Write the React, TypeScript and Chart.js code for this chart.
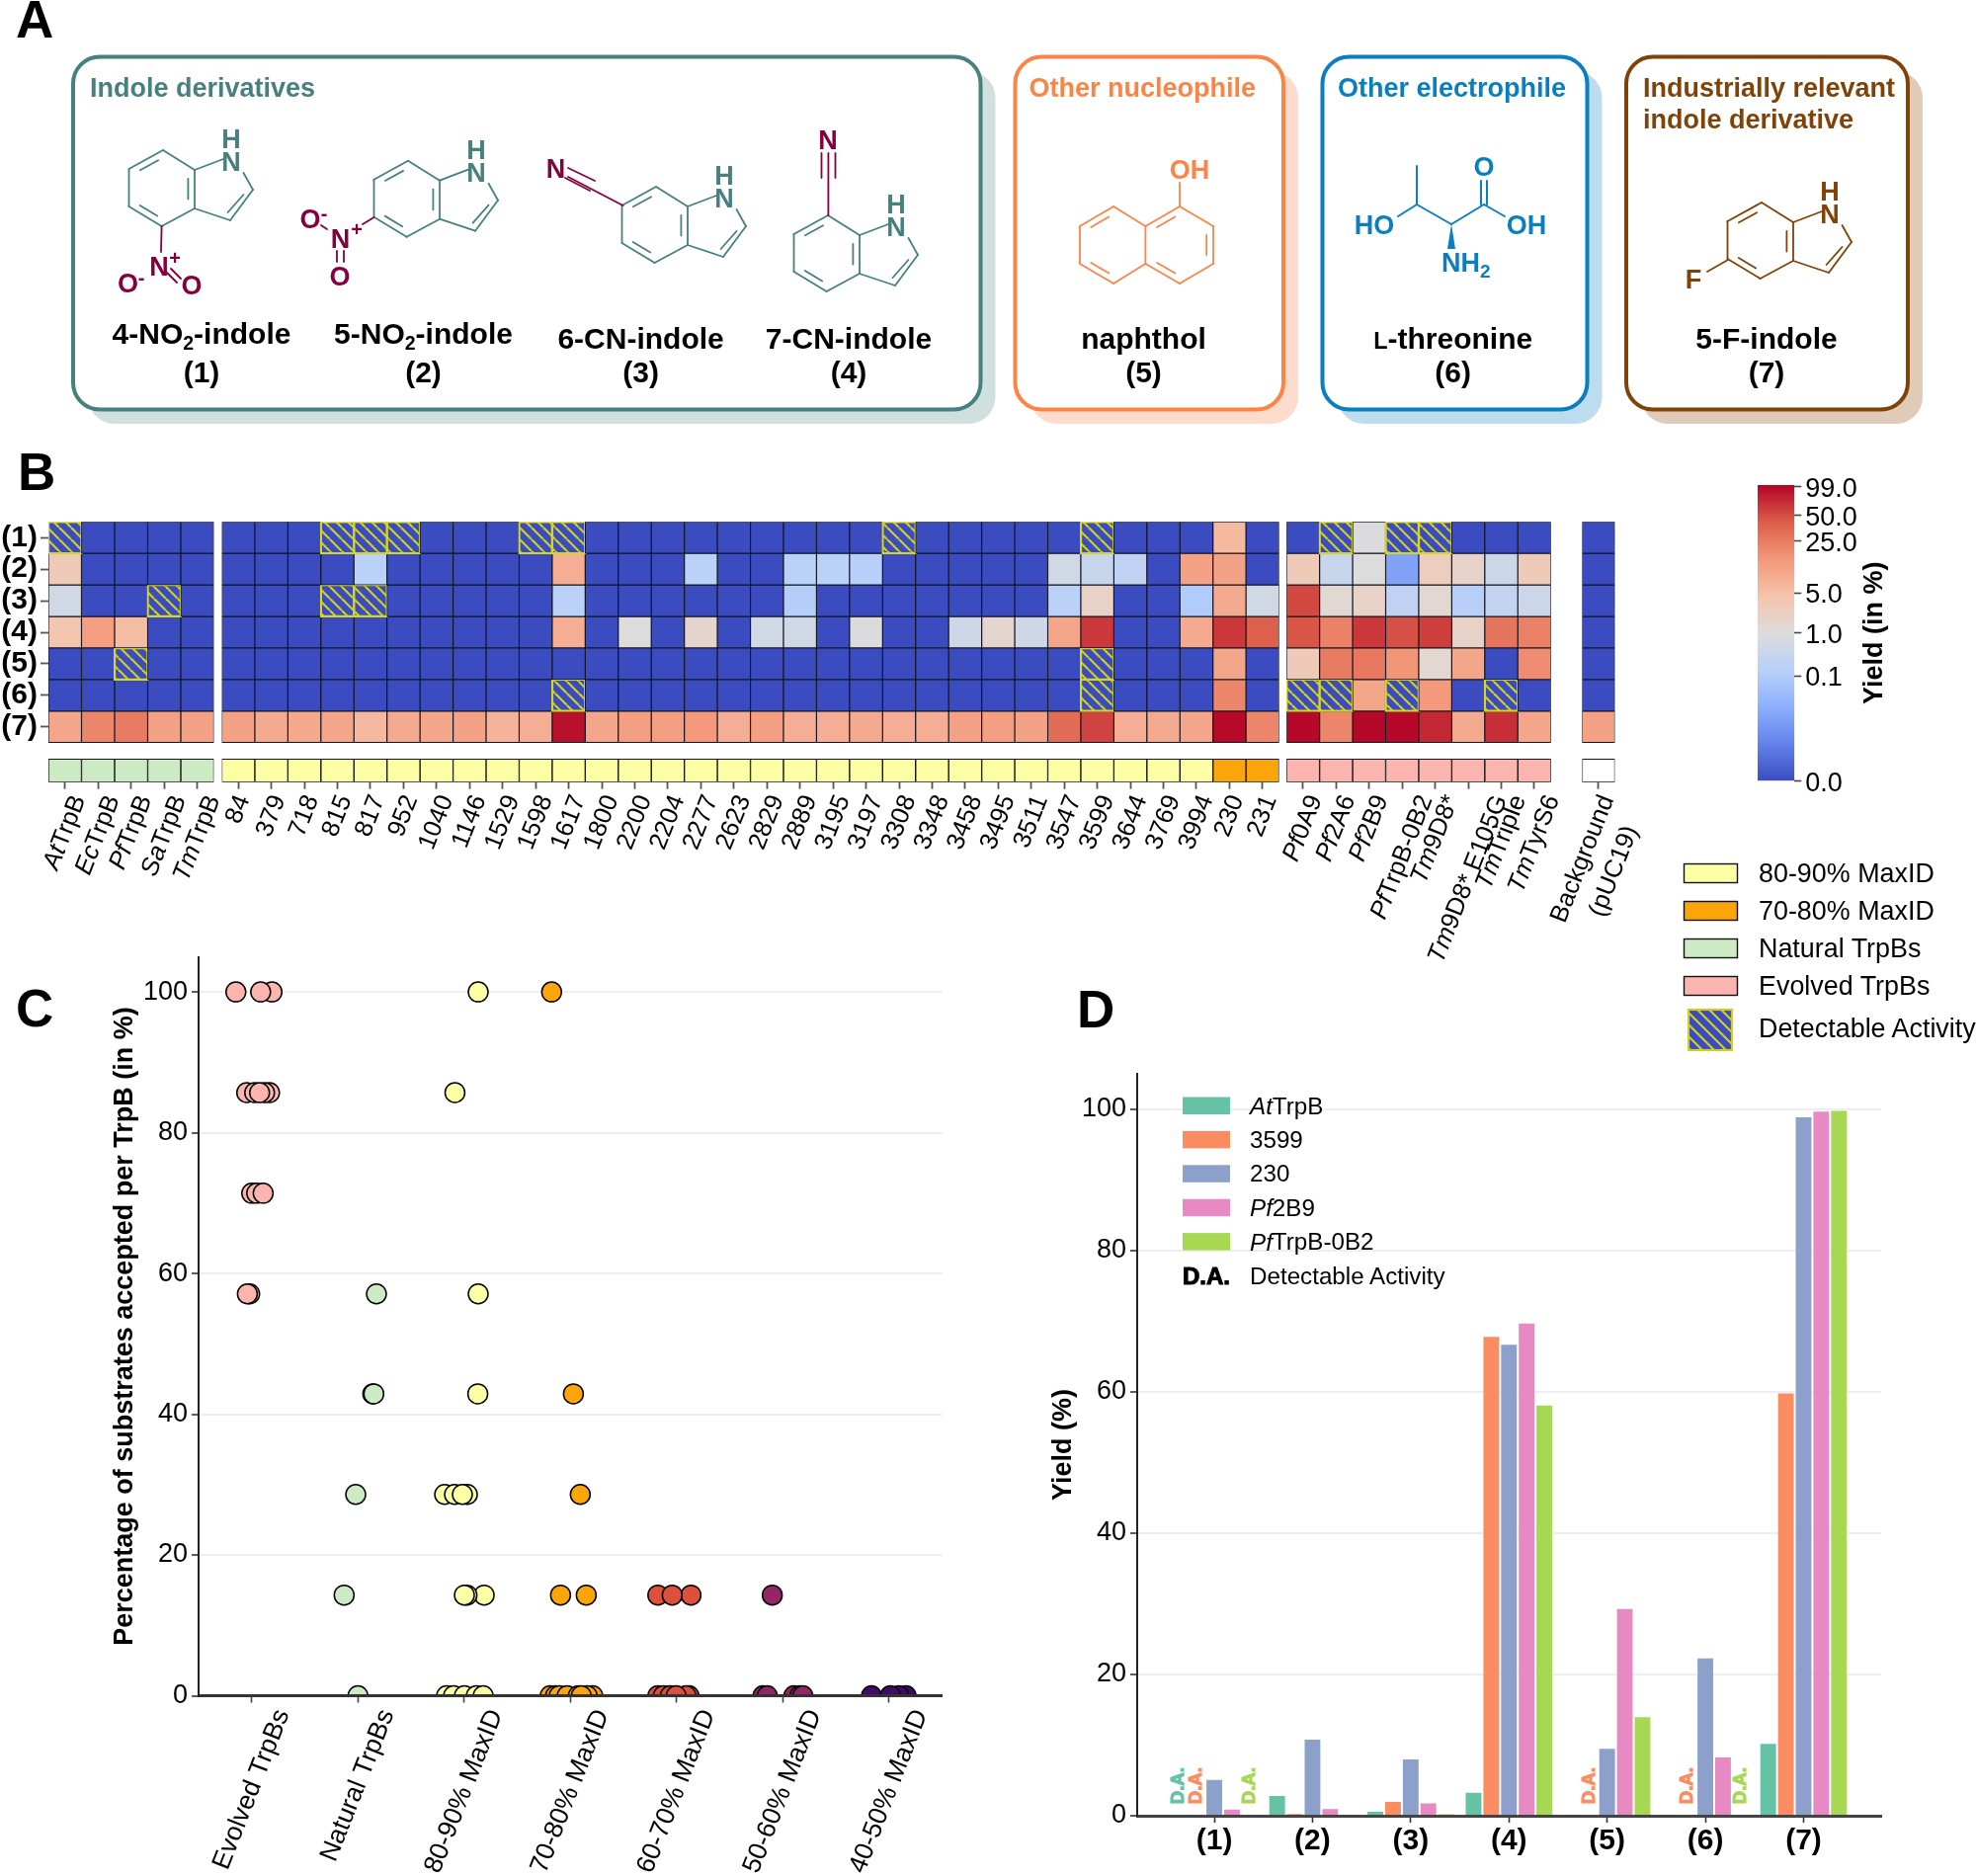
import React, { useEffect, useRef } from "react";
import { Chart, registerables } from "chart.js";

Chart.register(...registerables);

const FONT = '"Liberation Sans", Arial, sans-serif';
Chart.defaults.font.family = FONT;
Chart.defaults.color = "#000";

// ---------- data: panel B ----------
const DA = -1; // detectable activity (hatched cell)
const naturalLabels = ["AtTrpB", "EcTrpB", "PfTrpB", "SaTrpB", "TmTrpB"];
const midLabels = ["84", "379", "718", "815", "817", "952", "1040", "1146", "1529", "1598", "1617", "1800", "2200", "2204", "2277", "2623", "2829", "2889", "3195", "3197", "3308", "3348", "3458", "3495", "3511", "3547", "3599", "3644", "3769", "3994", "230", "231"];
const evolvedLabels = ["Pf0A9", "Pf2A6", "Pf2B9", "PfTrpB-0B2", "Tm9D8*", "Tm9D8* E105G", "TmTriple", "TmTyrS6"];
const backgroundLabels = ["Background|(pUC19)"];
const rowLabels = ["(1)", "(2)", "(3)", "(4)", "(5)", "(6)", "(7)"];

const row1 = [DA, 0, 0, 0, 0, 0, 0, 0, DA, DA, DA, 0, 0, 0, DA, DA, 0, 0, 0, 0, 0, 0, 0, 0, 0, DA, 0, 0, 0, 0, 0, DA, 0, 0, 0, 6, 0, 0, DA, 0.9, DA, DA, 0, 0, 0, 0];
const row2 = [3, 0, 0, 0, 0, 0, 0, 0, 0, 0.15, 0, 0, 0, 0, 0, 8, 0, 0, 0, 0.15, 0, 0, 0.15, 0.15, 0.13, 0, 0, 0, 0, 0, 0.5, 0.3, 0.2, 0, 11, 11, 0, 3, 0.3, 1, 0.06, 2.5, 1.8, 0.4, 3, 0];
const row3 = [0.5, 0, 0, DA, 0, 0, 0, 0, DA, DA, 0, 0, 0, 0, 0, 0.15, 0, 0, 0, 0, 0, 0, 0.12, 0, 0, 0, 0, 0, 0, 0, 0.16, 2, 0, 0, 0.1, 9, 0.5, 52, 1.3, 2, 0.2, 1.4, 0.13, 0.25, 0.4, 0];
const row4 = [4, 12, 5.5, 0, 0, 0, 0, 0, 0, 0, 0, 0, 0, 0, 0, 8, 0, 1, 0, 1.6, 0, 0.5, 0.5, 0, 0.9, 0, 0, 0.45, 1.5, 0.45, 10, 62, 0, 0, 9, 62, 40, 45, 22, 62, 48, 58, 2, 28, 23, 0];
const row5 = [0, 0, DA, 0, 0, 0, 0, 0, 0, 0, 0, 0, 0, 0, 0, 0, 0, 0, 0, 0, 0, 0, 0, 0, 0, 0, 0, 0, 0, 0, 0, DA, 0, 0, 0, 10, 0, 3, 25, 27, 15, 1.4, 10, 0, 18, 0];
const row6 = [0, 0, 0, 0, 0, 0, 0, 0, 0, 0, 0, 0, 0, 0, 0, DA, 0, 0, 0, 0, 0, 0, 0, 0, 0, 0, 0, 0, 0, 0, 0, DA, 0, 0, 0, 20, 0, DA, DA, 10, DA, 14, 0, DA, 0, 0];
const row7 = [10, 20, 25, 11, 11, 11, 9, 9.5, 10, 6, 9, 10, 11, 7, 8, 92, 10, 12, 12, 14, 8, 12, 8, 8, 9, 8, 8, 11, 12, 11, 32, 55, 8, 9, 10, 97, 20, 99, 20, 99, 99, 72, 9, 68, 10, 11];
const heatRows = [row1, row2, row3, row4, row5, row6, row7];

const cbarTicks = [99, 50, 25, 5, 1, 0.1, 0];
const cbarPositions = [0.994, 0.898, 0.81, 0.636, 0.5, 0.356, 0];
const coolwarmStops = ["#3b4cc0", "#6282ea", "#8db0fe", "#b8d0f9", "#dddcdc", "#f5c4ac", "#f4987a", "#dc5d4a", "#b40426"];

const YELLOW = "#fcffa4";
const ORANGE = "#fca50a";
const GREEN = "#ccebc5";
const PINK = "#fbb4ae";
const RED = "#dd513a";
const PURPLE = "#932667";
const VIOLET = "#420a68";

// ---------- data: panel C ----------
const cCategories = ["Evolved TrpBs", "Natural TrpBs", "80-90% MaxID", "70-80% MaxID", "60-70% MaxID", "50-60% MaxID", "40-50% MaxID"];
const cYTicks = [0, 20, 40, 60, 80, 100];
const pct = { a: 100, b: 85.7, c: 71.4, d: 57.1, e: 42.9, f: 28.6, g: 14.3, z: 0 };
const evolvedPts: [number, number][] = [[0.191, pct.a], [-0.149, pct.a], [0.084, pct.a], [-0.047, pct.b], [0.168, pct.b], [0.121, pct.b], [0.028, pct.b], [0.074, pct.b], [0, pct.c], [0.047, pct.c], [0.108, pct.c], [-0.019, pct.d], [-0.041, pct.d]];
const naturalPts: [number, number][] = [[1.174, pct.d], [1.14, pct.e], [1.149, pct.e], [0.979, pct.f], [0.87, pct.g], [1, pct.z]];
const id80Pts: [number, number][] = [[2.132, pct.a], [1.913, pct.b], [2.132, pct.d], [2.128, pct.e], [1.816, pct.f], [2.03, pct.f], [1.909, pct.f], [1.983, pct.f], [2.188, pct.g], [2.026, pct.g], [2.002, pct.g], [1.834, pct.z], [1.9, pct.z], [2.002, pct.z], [2.114, pct.z], [2.179, pct.z]];
const id70Pts: [number, number][] = [[2.823, pct.a], [3.028, pct.e], [3.093, pct.f], [2.907, pct.g], [3.149, pct.g], [2.809, pct.z], [2.86, pct.z], [2.894, pct.z], [2.969, pct.z], [3.21, pct.z], [3.158, pct.z], [3.074, pct.z], [3.102, pct.z]];
const id60Pts: [number, number][] = [[3.823, pct.g], [4.135, pct.g], [3.958, pct.g], [3.823, pct.z], [3.874, pct.z], [3.94, pct.z], [4.116, pct.z], [4.088, pct.z], [3.995, pct.z]];
const id50Pts: [number, number][] = [[4.9, pct.g], [4.813, pct.z], [4.853, pct.z], [5.104, pct.z], [5.16, pct.z], [5.188, pct.z]];
const id40Pts: [number, number][] = [[5.834, pct.z], [6.16, pct.z], [6.09, pct.z], [6.011, pct.z]];

// ---------- data: panel D ----------
const dCategories = ["(1)", "(2)", "(3)", "(4)", "(5)", "(6)", "(7)"];
const dAt = [0, 2.95, 0.7, 3.4, 0, 0, 10.3];
const d3599 = [0, 0.35, 2.1, 67.9, 0, 0, 59.9];
const d230 = [5.2, 10.9, 8.1, 66.8, 9.6, 22.4, 99];
const dPf2B9 = [1, 1.1, 1.9, 69.8, 29.4, 8.4, 99.8];
const dPf0B2 = [0, 0.1, 0.3, 58.2, 14.1, 0, 99.9];
const dAtDA = [1];
const d3599DA = [1, 5, 6];
const dPf0B2DA = [1, 6];
const dColors = ["#66c2a5", "#fc8d62", "#8da0cb", "#e78ac3", "#a6d854"];

// ---------- helpers ----------
type Box = { x: number; y: number; w: number; h: number };
type Plot = { l: number; t: number; r: number; b: number };

function hex(c: string) {
  return [1, 3, 5].map((i) => parseInt(c.slice(i, i + 2), 16));
}
function coolwarm(t: number) {
  const u = Math.max(0, Math.min(1, t)) * (coolwarmStops.length - 1);
  const i = Math.min(Math.floor(u), coolwarmStops.length - 2);
  const a = hex(coolwarmStops[i]);
  const b = hex(coolwarmStops[i + 1]);
  const f = u - i;
  return `rgb(${a.map((v, k) => Math.round(v + (b[k] - v) * f)).join(",")})`;
}
function norm(v: number) {
  if (v <= 0) return 0;
  for (let i = 0; i < cbarTicks.length - 1; i++) {
    const hi = cbarTicks[i];
    const lo = cbarTicks[i + 1];
    if (v >= lo) {
      const f = lo === 0 ? v / hi : Math.log(v / lo) / Math.log(hi / lo);
      return cbarPositions[i + 1] + (cbarPositions[i] - cbarPositions[i + 1]) * f;
    }
  }
  return 1;
}
function fixedAxis(size: number) {
  return (s: any) => {
    if (s.isHorizontal()) s.height = size;
    else s.width = size;
    s.paddingLeft = s.paddingRight = s.paddingTop = s.paddingBottom = 0;
  };
}
function padFor(box: Box, plot: Plot, left = 0, bottom = 0, right = 0) {
  return {
    left: plot.l - box.x - left,
    top: plot.t - box.y,
    right: box.x + box.w - plot.r - right,
    bottom: box.y + box.h - plot.b - bottom,
  };
}
function hatchPattern() {
  const n = 12;
  const c = document.createElement("canvas");
  c.width = c.height = n;
  const g = c.getContext("2d")!;
  g.fillStyle = "#3b4cc0";
  g.fillRect(0, 0, n, n);
  g.strokeStyle = "#cfcf22";
  g.lineWidth = 2.2;
  for (const d of [-n, 0, n]) {
    g.beginPath();
    g.moveTo(d, 0);
    g.lineTo(d + n, n);
    g.stroke();
  }
  return g.createPattern(c, "repeat")!;
}
const ITALIC_PREFIX = /^(At|Ec|Pf|Sa|Tm)/;
function angledLabels(id: string, labels: string[], topPx: number, size: number, angleDeg: number, lh: number) {
  return {
    id,
    afterDraw(chart: any) {
      const { ctx, scales } = chart;
      const th = (angleDeg * Math.PI) / 180;
      const top = topPx - chart.canvas.offsetTop;
      labels.forEach((label, i) => {
        const lines = label.split("|");
        const parts = lines.map((ln) => {
          const m = ln.match(ITALIC_PREFIX);
          return m ? [[m[1], `italic ${size}px ${FONT}`], [ln.slice(m[1].length), `${size}px ${FONT}`]] : [[ln, `${size}px ${FONT}`]];
        });
        const widths = parts.map((runs) =>
          runs.reduce((acc, [t, f]) => {
            ctx.font = f;
            return acc + ctx.measureText(t).width;
          }, 0)
        );
        const w = Math.max(...widths);
        const hgt = lines.length * lh;
        const H = w * Math.sin(th) + hgt * Math.cos(th);
        const px = scales.x.getPixelForValue(i);
        ctx.save();
        ctx.translate(px, top + H / 2);
        ctx.rotate(-th);
        ctx.fillStyle = "#000";
        ctx.textBaseline = "middle";
        ctx.textAlign = "left";
        parts.forEach((runs, j) => {
          let x = -widths[j] / 2;
          const y = (j - (lines.length - 1) / 2) * lh;
          runs.forEach(([t, f]) => {
            ctx.font = f;
            ctx.fillText(t, x, y);
            x += ctx.measureText(t).width;
          });
        });
        ctx.restore();
      });
    },
  };
}

function ChartCanvas({ box, build }: { box: Box; build: () => any }) {
  const ref = useRef<HTMLCanvasElement>(null);
  useEffect(() => {
    const chart = new Chart(ref.current!, build());
    return () => chart.destroy();
  }, []);
  return <canvas ref={ref} width={box.w} height={box.h} style={{ position: "absolute", left: box.x, top: box.y, width: box.w, height: box.h }} />;
}

const baseOptions = {
  responsive: false,
  animation: false as const,
  devicePixelRatio: 1,
  events: [] as string[],
};

// ---------- panel B ----------
const ROW_GAP = 0.52;
const STRIP = 0.733;
function heatConfig(box: Box, plot: Plot, labels: string[], start: number, strip: string | ((i: number) => string), showRows: boolean) {
  const pattern = hatchPattern();
  const cell = (row: number[], i: number) => row[start + i];
  const rowSets = heatRows.map((row, r) => ({
    label: rowLabels[r],
    data: labels.map(() => 1),
    backgroundColor: (c: any) => (cell(row, c.dataIndex) === DA ? pattern : coolwarm(norm(cell(row, c.dataIndex)))),
    borderColor: (c: any) => (cell(row, c.dataIndex) === DA ? "#d6d61c" : "#14141e"),
    borderWidth: (c: any) => (cell(row, c.dataIndex) === DA ? 2.2 : 1),
    inflateAmount: (c: any) => (cell(row, c.dataIndex) === DA ? 1 : 0.4),
  }));
  const gap = { label: "gap", data: labels.map(() => ROW_GAP), backgroundColor: "transparent", borderWidth: 0, inflateAmount: 0 };
  const stripSet = {
    label: "group",
    data: labels.map(() => STRIP),
    backgroundColor: (c: any) => (typeof strip === "string" ? strip : strip(c.dataIndex)),
    borderColor: "#141414",
    borderWidth: 1,
    inflateAmount: 0.3,
  };
  const axisW = showRows ? plot.l - box.x : 0;
  return {
    type: "bar",
    data: { labels, datasets: [...rowSets, gap, stripSet] },
    options: {
      ...baseOptions,
      layout: { padding: padFor(box, plot, axisW) },
      datasets: { bar: { barPercentage: 1, categoryPercentage: 1, borderSkipped: false } },
      plugins: { legend: { display: false }, tooltip: { enabled: false } },
      scales: {
        x: {
          stacked: true,
          ticks: { display: false, autoSkip: false },
          grid: { display: true, offset: false, drawOnChartArea: false, drawTicks: true, tickLength: 7, tickColor: "#555", tickWidth: 1.8 },
          border: { display: false },
          afterFit: fixedAxis(0),
        },
        y: {
          display: showRows,
          stacked: true,
          reverse: true,
          min: 0,
          max: 7 + ROW_GAP + STRIP,
          bounds: "data",
          afterBuildTicks: (s: any) => {
            s.ticks = rowLabels.map((_, i) => ({ value: i + 0.5 }));
          },
          ticks: { autoSkip: false, padding: 3, font: { size: 30, weight: "bold" }, callback: (_: any, i: number) => rowLabels[i] },
          grid: { display: true, drawOnChartArea: false, drawTicks: true, tickLength: 8, tickColor: "#555", tickWidth: 1.8 },
          border: { display: false },
          afterFit: fixedAxis(axisW),
        },
      },
    },
    plugins: [angledLabels("ticks" + start, labels, 800, 25.5, 68.5, 34)],
  };
}

const groups = [
  { box: { x: 0, y: 510, w: 300, h: 490 }, plot: { l: 49, t: 528.3, r: 216.5, b: 791.7 }, labels: naturalLabels, start: 0, strip: GREEN as any, rows: true },
  { box: { x: 190, y: 510, w: 1140, h: 490 }, plot: { l: 224.5, t: 528.3, r: 1294.6, b: 791.7 }, labels: midLabels, start: 5, strip: (i: number) => (i >= 30 ? ORANGE : YELLOW), rows: false },
  { box: { x: 1260, y: 510, w: 340, h: 490 }, plot: { l: 1302.2, t: 528.3, r: 1569.7, b: 791.7 }, labels: evolvedLabels, start: 37, strip: PINK as any, rows: false },
  { box: { x: 1540, y: 510, w: 160, h: 490 }, plot: { l: 1601.4, t: 528.3, r: 1634.5, b: 791.7 }, labels: backgroundLabels, start: 45, strip: "#ffffff" as any, rows: false },
];

function colorbarConfig(box: Box, plot: Plot) {
  return {
    type: "bar",
    data: {
      labels: ["Yield"],
      datasets: [
        {
          data: [[0, 1]],
          barPercentage: 1,
          categoryPercentage: 1,
          borderWidth: 0,
          inflateAmount: 0,
          backgroundColor: (c: any) => {
            const { ctx, chartArea } = c.chart;
            if (!chartArea) return "#ddd";
            const g = ctx.createLinearGradient(0, chartArea.bottom, 0, chartArea.top);
            coolwarmStops.forEach((s, i) => g.addColorStop(i / (coolwarmStops.length - 1), s));
            return g;
          },
        },
      ],
    },
    options: {
      ...baseOptions,
      layout: { padding: padFor(box, plot, 0, 0, 70) },
      plugins: { legend: { display: false }, tooltip: { enabled: false } },
      scales: {
        x: { display: false },
        y: {
          position: "right",
          min: 0,
          max: 1,
          bounds: "data",
          afterBuildTicks: (s: any) => {
            s.ticks = cbarPositions.map((v) => ({ value: v }));
          },
          ticks: { autoSkip: false, padding: 4, labelOffset: 2.5, font: { size: 27 }, color: "#000", callback: (_: any, i: number) => cbarTicks[i].toFixed(1) },
          grid: { display: true, drawOnChartArea: false, tickLength: 7, tickColor: "#444", tickWidth: 1.6 },
          border: { display: false },
          afterFit: fixedAxis(70),
        },
      },
    },
    plugins: [
      {
        id: "cbarTitle",
        afterDraw(chart: any) {
          const { ctx, chartArea } = chart;
          ctx.save();
          ctx.translate(1897.5 - box.x, (chartArea.top + chartArea.bottom) / 2);
          ctx.rotate(-Math.PI / 2);
          ctx.font = `bold 27px ${FONT}`;
          ctx.textAlign = "center";
          ctx.textBaseline = "middle";
          ctx.fillStyle = "#000";
          ctx.fillText("Yield (in %)", 0, 0);
          ctx.restore();
        },
      },
    ],
  };
}

// ---------- panels C and D ----------
function yAxis(title: string, width: number) {
  return {
    min: 0,
    max: 105,
    bounds: "data",
    afterBuildTicks: (s: any) => {
      s.ticks = cYTicks.map((v) => ({ value: v }));
    },
    title: { display: true, text: title, font: { size: 27, weight: "bold" }, color: "#000", padding: 0 },
    ticks: { font: { size: 27 }, color: "#000", padding: 4, autoSkip: false },
    grid: { color: (c: any) => (c.tick && c.tick.value === 0 ? "transparent" : "#eeeeee"), lineWidth: 2, tickLength: 7, tickColor: "#333", tickWidth: 1.6 },
    border: { color: "#222", width: 2, z: 1 },
    afterFit: fixedAxis(width),
  };
}

function scatterConfig(box: Box, plot: Plot) {
  const series: [[number, number][], string][] = [
    [id40Pts, VIOLET],
    [id50Pts, PURPLE],
    [id60Pts, RED],
    [id70Pts, ORANGE],
    [id80Pts, YELLOW],
    [naturalPts, GREEN],
    [evolvedPts, PINK],
  ];
  return {
    type: "scatter",
    data: {
      datasets: series.map(([pts, color]) => ({
        data: pts.map(([x, y]) => ({ x, y })),
        backgroundColor: color,
        borderColor: "#000",
        borderWidth: 1.5,
        pointRadius: 10,
      })),
    },
    options: {
      ...baseOptions,
      layout: { padding: padFor(box, plot, 90.7) },
      plugins: { legend: { display: false }, tooltip: { enabled: false } },
      scales: {
        x: {
          type: "linear",
          min: -0.5,
          max: 6.5,
          bounds: "data",
          afterBuildTicks: (s: any) => {
            s.ticks = cCategories.map((_, i) => ({ value: i }));
          },
          ticks: { display: false, autoSkip: false },
          grid: { display: true, drawOnChartArea: false, tickLength: 7, tickColor: "#444", tickWidth: 1.6 },
          border: { color: "#333", width: 3, z: 1 },
          afterFit: fixedAxis(0),
        },
        y: yAxis("Percentage of substrates accepted per TrpB (in %)", 90.7),
      },
    },
    plugins: [angledLabels("cTicks", cCategories, 1726, 26.5, 68.5, 32)],
  };
}

function barsConfig(box: Box, plot: Plot) {
  const series = [dAt, d3599, d230, dPf2B9, dPf0B2];
  const names = ["AtTrpB", "3599", "230", "Pf2B9", "PfTrpB-0B2"];
  const flags: Record<number, number[]> = { 0: dAtDA.map((k) => k - 1), 1: d3599DA.map((k) => k - 1), 4: dPf0B2DA.map((k) => k - 1) };
  return {
    type: "bar",
    data: {
      datasets: series.map((vals, s) => ({
        label: names[s],
        data: vals.map((y, i) => ({ x: i, y })),
        backgroundColor: dColors[s],
        borderColor: "rgba(255,255,255,0.55)",
        borderWidth: 1,
        inflateAmount: 0,
        barPercentage: 1,
        categoryPercentage: 0.9,
      })),
    },
    options: {
      ...baseOptions,
      layout: { padding: padFor(box, plot, 90.8, 50) },
      plugins: { legend: { display: false }, tooltip: { enabled: false } },
      scales: {
        x: {
          type: "linear",
          offset: false,
          min: -0.785,
          max: 6.79,
          bounds: "data",
          afterBuildTicks: (s: any) => {
            s.ticks = dCategories.map((_, i) => ({ value: i }));
          },
          ticks: { autoSkip: false, maxRotation: 0, padding: 1, font: { size: 30, weight: "bold" }, color: "#000", callback: (_: any, i: number) => dCategories[i] },
          grid: { display: true, offset: false, drawOnChartArea: false, tickLength: 7, tickColor: "#333", tickWidth: 1.6 },
          border: { color: "#444", width: 3, z: 1 },
          afterFit: fixedAxis(50),
        },
        y: yAxis("Yield (%)", 90.8),
      },
    },
    plugins: [
      {
        id: "daLabels",
        afterDatasetsDraw(chart: any) {
          const { ctx, scales } = chart;
          Object.entries(flags).forEach(([s, idx]) => {
            idx.forEach((j) => {
              const el = chart.getDatasetMeta(Number(s)).data[j];
              ctx.save();
              ctx.translate(el.x, scales.y.getPixelForValue(1.65));
              ctx.rotate(-Math.PI / 2);
              ctx.font = `bold 18.5px ${FONT}`;
              ctx.textAlign = "left";
              ctx.textBaseline = "middle";
              ctx.fillStyle = dColors[Number(s)];
              ctx.strokeStyle = dColors[Number(s)];
              ctx.lineWidth = 1.1;
              ctx.strokeText("D.A.", 0, 0);
              ctx.fillText("D.A.", 0, 0);
              ctx.restore();
            });
          });
        },
      },
    ],
  };
}

// ---------- panel A drawing and legends (overlay) ----------
const TEAL = "#46807f";
const MAROON = "#84003f";
const CORAL = "#fd8347";
const BLUE = "#0a7fbf";
const BROWN = "#7f4208";

function L({ p, c, w = 1.8 }: { p: number[]; c: string; w?: number }) {
  return <line x1={p[0]} y1={p[1]} x2={p[2]} y2={p[3]} stroke={c} strokeWidth={w} strokeLinecap="round" />;
}
function Atom({ x, y, t, c, size = 27 }: { x: number; y: number; t: string; c: string; size?: number }) {
  return (
    <text x={x} y={y} fill={c} fontSize={size} fontWeight="bold" textAnchor="middle" dominantBaseline="central">
      {t}
    </text>
  );
}
function inner(a: number[], b: number[], o: number[]) {
  const s = 0.17;
  const m = 0.2;
  const q = (v: number[]) => [v[0] + (o[0] - v[0]) * m, v[1] + (o[1] - v[1]) * m];
  const A = q(a);
  const B = q(b);
  return [A[0] + (B[0] - A[0]) * s, A[1] + (B[1] - A[1]) * s, B[0] + (A[0] - B[0]) * s, B[1] + (A[1] - B[1]) * s];
}
function Indole({ dx, dy, c }: { dx: number; dy: number; c: string }) {
  const T = [164, 152], UL = [129.5, 171], LL = [129.5, 209], B = [162.6, 229], LR = [196, 211], UR = [196, 172];
  const o = [163, 190];
  const seg = (a: number[], b: number[]) => [a[0], a[1], b[0], b[1]];
  return (
    <g transform={`translate(${dx + 1},${dy})`}>
      {[seg(T, UL), seg(UL, LL), seg(LL, B), seg(B, LR), seg(LR, UR), seg(UR, T), inner(T, UL, o), inner(LL, B, o), inner(LR, UR, o), [196, 172, 225, 161], [245.5, 175, 255, 192], [255, 192, 232, 223], [245.5, 197, 229.6, 215], [232, 223, 196, 211]].map((p, i) => (
        <L key={i} p={p} c={c} />
      ))}
      <Atom x={233} y={164} t="N" c={c} />
      <Atom x={233} y={141} t="H" c={c} />
    </g>
  );
}
function Name({ x, y, t, n, sub, rest }: { x: number; y: number; t: string; n: string; sub?: string; rest?: string }) {
  return (
    <g fontSize={30} fontWeight="bold" textAnchor="middle" fill="#000">
      <text x={x} y={y}>
        {t}
        {sub && (
          <tspan fontSize={19.5} dy={6}>
            {sub}
          </tspan>
        )}
        {rest && <tspan dy={sub ? -6 : 0}>{rest}</tspan>}
      </text>
      <text x={x} y={387}>
        {n}
      </text>
    </g>
  );
}
function Card({ l, r, c, shadow }: { l: number; r: number; c: string; shadow: string }) {
  return (
    <g>
      <rect x={l + 15} y={72} width={r - l} height={357} rx={27} fill={shadow} />
      <rect x={l} y={57.5} width={r - l} height={357} rx={27} fill="#fff" stroke={c} strokeWidth={4} />
    </g>
  );
}

function Overlay() {
  const heading = { fontSize: 27, fontWeight: "bold" as const };
  const legendB = [
    ["80-90% MaxID", YELLOW],
    ["70-80% MaxID", ORANGE],
    ["Natural TrpBs", GREEN],
    ["Evolved TrpBs", PINK],
  ];
  const legendD: [string, string, string][] = [
    ["At", "TrpB", dColors[0]],
    ["", "3599", dColors[1]],
    ["", "230", dColors[2]],
    ["Pf", "2B9", dColors[3]],
    ["Pf", "TrpB-0B2", dColors[4]],
  ];
  return (
    <svg width={2000} height={1899} style={{ position: "absolute", left: 0, top: 0, pointerEvents: "none" }} fontFamily={FONT}>
      <defs>
        <pattern id="hatch" width={12} height={12} patternUnits="userSpaceOnUse">
          <rect width={12} height={12} fill="#3b4cc0" />
          <path d="M-12 0L12 24M0 0L12 12M0 -12L24 12" stroke="#cfcf22" strokeWidth={2.2} />
        </pattern>
      </defs>
      <g fontSize={53} fontWeight="bold" fill="#000">
        <text x={16} y={38}>A</text>
        <text x={18} y={496}>B</text>
        <text x={16} y={1039}>C</text>
        <text x={1090} y={1040}>D</text>
      </g>

      <Card l={74} r={992.5} c={TEAL} shadow="#d0e0df" />
      <Card l={1027.5} r={1299} c={CORAL} shadow="#fedccd" />
      <Card l={1338.5} r={1606.5} c={BLUE} shadow="#bddcee" />
      <Card l={1646} r={1931} c={BROWN} shadow="#dfcbb8" />
      <text x={91} y={98} fill={TEAL} {...heading}>Indole derivatives</text>
      <text x={1041.5} y={98} fill={CORAL} {...heading}>Other nucleophile</text>
      <text x={1354} y={98} fill={BLUE} {...heading}>Other electrophile</text>
      <text x={1663} y={98} fill={BROWN} {...heading}>Industrially relevant</text>
      <text x={1663} y={130} fill={BROWN} {...heading}>indole derivative</text>

      <Indole dx={0} dy={0} c={TEAL} />
      <L p={[163.6, 229, 163, 255]} c={MAROON} />
      <Atom x={161} y={270} t="N" c={MAROON} />
      <Atom x={177} y={261} t="+" c={MAROON} size={20} />
      <Atom x={129.5} y={287} t="O" c={MAROON} />
      <Atom x={143} y={281} t="-" c={MAROON} size={20} />
      <Atom x={194} y={289} t="O" c={MAROON} />
      <L p={[173, 272, 183, 282]} c={MAROON} />
      <L p={[169, 276, 179, 286]} c={MAROON} />

      <Indole dx={248} dy={10.7} c={TEAL} />
      <L p={[378.5, 220, 367, 227]} c={MAROON} />
      <Atom x={344.4} y={241.7} t="N" c={MAROON} />
      <Atom x={361} y={232} t="+" c={MAROON} size={20} />
      <Atom x={314} y={222} t="O" c={MAROON} />
      <Atom x={328} y={216} t="-" c={MAROON} size={20} />
      <L p={[325, 228, 331, 232]} c={MAROON} />
      <Atom x={344} y={280} t="O" c={MAROON} />
      <L p={[341, 254, 341, 265]} c={MAROON} />
      <L p={[348, 254, 348, 265]} c={MAROON} />

      <Indole dx={499} dy={37} c={TEAL} />
      <L p={[630.5, 208, 575, 179]} c={MAROON} />
      <L p={[602, 183, 575, 170]} c={MAROON} />
      <L p={[597, 193, 572, 180]} c={MAROON} />
      <Atom x={562.5} y={170.7} t="N" c={MAROON} />

      <Indole dx={673} dy={66} c={TEAL} />
      <L p={[838.4, 218, 838.4, 155]} c={MAROON} />
      <L p={[831.5, 180, 831.5, 155]} c={MAROON} />
      <L p={[845.5, 180, 845.5, 155]} c={MAROON} />
      <Atom x={838} y={142} t="N" c={MAROON} />

      {[[1127, 209, 1093, 229], [1093, 229, 1093, 267], [1093, 267, 1127, 287], [1127, 287, 1159.4, 267], [1159.4, 267, 1159.4, 229], [1159.4, 229, 1127, 209], [1159.4, 229, 1194, 209], [1194, 209, 1228, 229], [1228, 229, 1228, 267], [1228, 267, 1194, 287], [1194, 287, 1159.4, 267], [1194, 209, 1194, 185]].map((p, i) => (
        <L key={i} p={p} c={CORAL} />
      ))}
      <L p={inner([1127, 209], [1093, 229], [1126, 248])} c={CORAL} />
      <L p={inner([1093, 267], [1127, 287], [1126, 248])} c={CORAL} />
      <L p={inner([1159.4, 229], [1194, 209], [1194, 248])} c={CORAL} />
      <L p={inner([1228, 229], [1228, 267], [1194, 248])} c={CORAL} />
      <L p={inner([1194, 287], [1159.4, 267], [1194, 248])} c={CORAL} />
      <Atom x={1204} y={172} t="OH" c={CORAL} />

      {[[1434, 168, 1434, 207], [1434, 207, 1415, 219], [1434, 207, 1469, 227], [1469, 227, 1502, 207], [1499, 207, 1499, 183], [1505, 207, 1505, 183], [1502, 207, 1523, 219]].map((p, i) => (
        <L key={i} p={p} c={BLUE} w={2} />
      ))}
      <polygon points="1469,227 1465,252 1473,252" fill={BLUE} />
      <Atom x={1502} y={169} t="O" c={BLUE} />
      <Atom x={1391} y={228} t="HO" c={BLUE} />
      <Atom x={1545} y={228} t="OH" c={BLUE} />
      <text x={1459} y={275} fill={BLUE} fontSize={27} fontWeight="bold">
        NH<tspan fontSize={19} dy={6}>2</tspan>
      </text>

      <Indole dx={1618} dy={53} c={BROWN} />
      <L p={[1749, 263, 1728, 275]} c={BROWN} />
      <Atom x={1714} y={283} t="F" c={BROWN} />

      <Name x={204} y={348} t="4-NO" sub="2" rest="-indole" n="(1)" />
      <Name x={428.5} y={348} t="5-NO" sub="2" rest="-indole" n="(2)" />
      <Name x={648.6} y={353} t="6-CN-indole" n="(3)" />
      <Name x={859} y={353} t="7-CN-indole" n="(4)" />
      <Name x={1157.5} y={353} t="naphthol" n="(5)" />
      <g fontSize={30} fontWeight="bold" textAnchor="middle">
        <text x={1470.7} y={353}>
          <tspan fontSize={23.5}>L</tspan>-threonine
        </text>
        <text x={1470.7} y={387}>(6)</text>
      </g>
      <Name x={1788} y={353} t="5-F-indole" n="(7)" />

      {legendB.map(([t, c], i) => (
        <g key={t}>
          <rect x={1704.5} y={874.5 + 38 * i} width={54} height={19} fill={c} stroke="#111" strokeWidth={1.4} />
          <text x={1780} y={884 + 38 * i} fontSize={26.9} dominantBaseline="central">{t}</text>
        </g>
      ))}
      <rect x={1709} y={1022} width={44} height={41} fill="url(#hatch)" stroke="#cfcf22" strokeWidth={2.2} />
      <text x={1780} y={1041} fontSize={26.9} dominantBaseline="central">Detectable Activity</text>

      {legendD.map(([it, rest, c], i) => (
        <g key={rest}>
          <rect x={1197} y={1110.5 + 34.4 * i} width={48} height={17.5} fill={c} />
          <text x={1265} y={1119 + 34.4 * i} fontSize={24.2} dominantBaseline="central">
            {it && <tspan fontStyle="italic">{it}</tspan>}
            {rest}
          </text>
        </g>
      ))}
      <text x={1197} y={1291} fontSize={24} fontWeight="bold" dominantBaseline="central" stroke="#000" strokeWidth={1}>D.A.</text>
      <text x={1265} y={1291} fontSize={24.2} dominantBaseline="central">Detectable Activity</text>
    </svg>
  );
}

const cBox: Box = { x: 90, y: 950, w: 880, h: 949 };
const cPlot: Plot = { l: 201, t: 968.5, r: 953.7, b: 1716.5 };
const dBox: Box = { x: 1040, y: 1070, w: 880, h: 829 };
const dPlot: Plot = { l: 1151, t: 1087, r: 1904, b: 1838 };
const barBox: Box = { x: 1770, y: 480, w: 230, h: 330 };
const barPlot: Plot = { l: 1779, t: 491, r: 1816.3, b: 790.7 };

export default function App() {
  return (
    <div style={{ position: "absolute", left: 0, top: 0, width: 2000, height: 1899, background: "#fff", overflow: "hidden" }}>
      {groups.map((g) => (
        <ChartCanvas key={g.start} box={g.box} build={() => heatConfig(g.box, g.plot, g.labels, g.start, g.strip, g.rows)} />
      ))}
      <ChartCanvas box={barBox} build={() => colorbarConfig(barBox, barPlot)} />
      <ChartCanvas box={cBox} build={() => scatterConfig(cBox, cPlot)} />
      <ChartCanvas box={dBox} build={() => barsConfig(dBox, dPlot)} />
      <Overlay />
    </div>
  );
}
